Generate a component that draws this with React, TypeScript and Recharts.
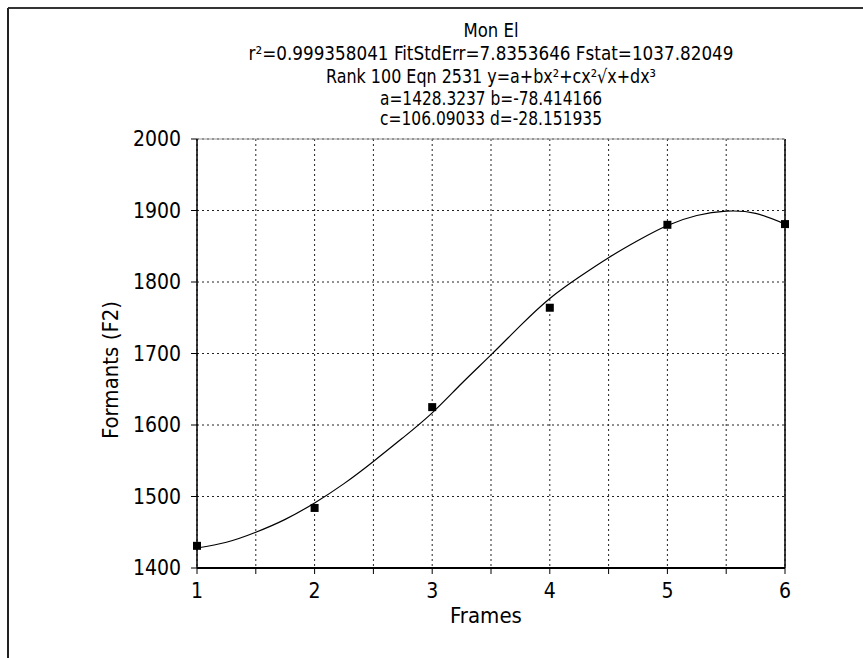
import {
  CartesianGrid,
  ComposedChart,
  Line,
  ReferenceLine,
  Scatter,
  XAxis,
  YAxis
} from "recharts";

// measured points (Frames vs F2)
const frames = [1, 2, 3, 4, 5, 6];
const formantF2 = [1431, 1484, 1625, 1764, 1880, 1881];

// fitted curve, every quarter frame
const curveX = [1, 1.25, 1.5, 1.75, 2, 2.25, 2.5, 2.75, 3, 3.25, 3.5, 3.75, 4, 4.25, 4.5, 4.75, 5, 5.25, 5.5, 5.75, 6];
const curveY = [1428, 1436, 1450, 1468, 1491, 1518, 1549, 1582, 1617, 1658, 1698, 1739, 1777, 1807, 1834, 1858, 1879, 1893, 1899, 1896, 1881];

const xTicks = [1, 1.5, 2, 2.5, 3, 3.5, 4, 4.5, 5, 5.5, 6];
const yTicks = [1400, 1500, 1600, 1700, 1800, 1900, 2000];

const titleLines = [
  "Mon El",
  "r²=0.999358041  FitStdErr=7.8353646  Fstat=1037.82049",
  "Rank 100  Eqn 2531  y=a+bx²+cx²√x+dx³",
  "a=1428.3237 b=-78.414166",
  "c=106.09033 d=-28.151935"
];

const points = frames.map((f, i) => ({ x: f, y: formantF2[i] }));
const curve = curveX.map((f, i) => ({ x: f, y: curveY[i] }));

const FONT = "'Liberation Sans Narrow', 'DejaVu Sans Condensed', 'Liberation Sans', sans-serif";

const Square = (props: any) => {
  const { cx, cy } = props;
  if (cx == null || cy == null) return null;
  return <rect x={cx - 4} y={cy - 4} width={8} height={8} fill="#000" />;
};

// title layout: centre y and width of each line
const titleY = [30, 53, 76, 98, 118];
const titleW = [55, 485, 330, 222, 222];

export default function App() {
  return (
    <div style={{ position: "absolute", left: 0, top: 0, width: 863, height: 658, background: "#fff" }}>
      <ComposedChart
        width={863}
        height={658}
        margin={{ top: 139, right: 78, bottom: 0, left: 0 }}
        style={{ fontFamily: FONT }}
      >
        <CartesianGrid stroke="#222" strokeDasharray="2 3" strokeWidth={1} />
        <XAxis
          dataKey="x"
          type="number"
          domain={[1, 6]}
          ticks={xTicks}
          interval={0}
          height={90}
          tickSize={6}
          tickMargin={9}
          tickFormatter={(v: number) => (Number.isInteger(v) ? String(v) : "")}
          tick={{ fill: "#000", fontSize: 21 }}
          axisLine={{ stroke: "#000", strokeWidth: 2 }}
          tickLine={{ stroke: "#000" }}
        />
        <YAxis
          dataKey="y"
          type="number"
          domain={[1400, 2000]}
          ticks={yTicks}
          interval={0}
          width={197}
          tickSize={6}
          tickMargin={10}
          tick={{ fill: "#000", fontSize: 21 }}
          axisLine={{ stroke: "#000", strokeWidth: 1.5 }}
          tickLine={{ stroke: "#000" }}
        />
        <ReferenceLine x={6} stroke="#000" strokeWidth={1.5} />
        <ReferenceLine y={2000} stroke="#999" strokeWidth={1} />
        <Line
          data={curve}
          dataKey="y"
          type="natural"
          stroke="#000"
          strokeWidth={1.2}
          dot={false}
          isAnimationActive={false}
        />
        <Scatter data={points} dataKey="y" fill="#000" shape={Square} isAnimationActive={false} />
      </ComposedChart>

      <svg
        width={863}
        height={658}
        style={{ position: "absolute", left: 0, top: 0, pointerEvents: "none" }}
      >
        <line x1={8} y1={8} x2={863} y2={8} stroke="#333" strokeWidth={2} />
        <line x1={8} y1={8} x2={8} y2={658} stroke="#222" strokeWidth={2} />
        {titleLines.map((t, i) => (
          <text
            key={i}
            x={491 - titleW[i] / 2}
            y={titleY[i]}
            dominantBaseline="central"
            textLength={titleW[i]}
            lengthAdjust="spacingAndGlyphs"
            fontFamily={FONT}
            fontSize={19}
            fill="#000"
          >
            {t}
          </text>
        ))}
        <text
          x={486}
          y={615}
          textAnchor="middle"
          dominantBaseline="central"
          fontFamily={FONT}
          fontSize={22}
          fill="#000"
        >
          Frames
        </text>
        <text
          transform="translate(110,370) rotate(-90)"
          textAnchor="middle"
          dominantBaseline="central"
          fontFamily={FONT}
          fontSize={22}
          fill="#000"
        >
          Formants (F2)
        </text>
      </svg>
    </div>
  );
}
